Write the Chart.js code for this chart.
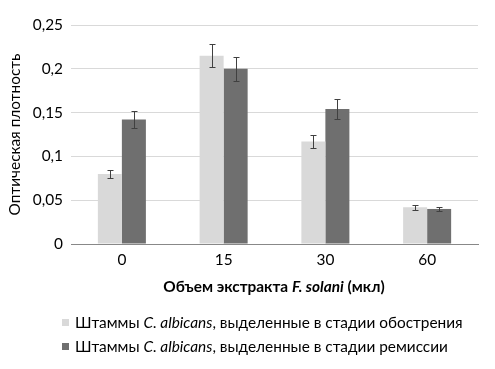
<!DOCTYPE html>
<html>
<head>
<meta charset="utf-8">
<script src="https://cdn.jsdelivr.net/npm/chart.js@4"></script>
<style>
  html, body { margin: 0; padding: 0; background: #fff; }
  #wrap { position: relative; width: 495px; height: 369px; font-family: Lato, "Open Sans", sans-serif; color: #000; }
  #c { position: absolute; left: 0; top: 0; }
  #xtitle { position: absolute; left: 0; width: 548px; top: 277px; text-align: center; font-weight: bold; font-size: 15.4px; white-space: nowrap; }
  .leg { position: absolute; left: 62px; font-size: 15.4px; white-space: nowrap; line-height: 18px; }
  .leg .sw { display: inline-block; width: 7px; height: 7px; margin-right: 6px; vertical-align: 2px; }
</style>
</head>
<body>
<div id="wrap">
  <canvas id="c" width="495" height="369"></canvas>
  <div id="xtitle">Объем экстракта <i>F. solani</i> (мкл)</div>
  <div class="leg" style="top:313px"><span class="sw" style="background:#d9d9d9"></span>Штаммы <i>C. albicans</i>, выделенные в стадии обострения</div>
  <div class="leg" style="top:337px"><span class="sw" style="background:#6f6f6f"></span>Штаммы <i>C. albicans</i>, выделенные в стадии ремиссии</div>
</div>
<script>
const categories = ['0', '15', '30', '60'];
const exacerbation = [0.080, 0.215, 0.117, 0.042];
const exacerbationErr = [0.005, 0.013, 0.007, 0.003];
const remission = [0.142, 0.200, 0.154, 0.040];
const remissionErr = [0.010, 0.014, 0.011, 0.0025];
const yTicks = [0, 0.05, 0.1, 0.15, 0.2, 0.25];

const errors = [exacerbationErr, remissionErr];

const errorBars = {
  id: 'errorBars',
  afterDatasetsDraw(chart) {
    const ctx = chart.ctx;
    const ys = chart.scales.y;
    ctx.save();
    ctx.strokeStyle = '#404040';
    ctx.lineWidth = 1;
    chart.data.datasets.forEach((ds, i) => {
      const meta = chart.getDatasetMeta(i);
      meta.data.forEach((el, j) => {
        const v = ds.data[j], e = errors[i][j];
        const x = Math.round(el.x) + 0.5;
        const yt = Math.round(ys.getPixelForValue(v + e)) + 0.5;
        const yb = Math.round(ys.getPixelForValue(v - e)) + 0.5;
        ctx.beginPath();
        ctx.moveTo(x, yt); ctx.lineTo(x, yb);
        ctx.moveTo(x - 3, yt); ctx.lineTo(x + 3, yt);
        ctx.moveTo(x - 3, yb); ctx.lineTo(x + 3, yb);
        ctx.stroke();
      });
    });
    ctx.restore();
  }
};

new Chart(document.getElementById('c'), {
  type: 'bar',
  data: {
    labels: categories,
    datasets: [
      { label: 'Штаммы C. albicans, выделенные в стадии обострения', data: exacerbation, backgroundColor: '#d9d9d9' },
      { label: 'Штаммы C. albicans, выделенные в стадии ремиссии', data: remission, backgroundColor: '#6f6f6f' }
    ]
  },
  options: {
    responsive: false,
    animation: false,
    devicePixelRatio: 1,
    layout: { padding: { top: 25, right: 17, bottom: 97, left: 0 } },
    plugins: { legend: { display: false }, tooltip: { enabled: false } },
    datasets: { bar: { barPercentage: 1, categoryPercentage: 0.472 } },
    scales: {
      x: {
        grid: { display: false, drawTicks: false },
        border: { color: '#888888' },
        ticks: { color: '#000', font: { family: 'Lato', size: 15.4 }, padding: 7 },
        afterFit(s) { s.height = 28; }
      },
      y: {
        min: 0, max: 0.25,
        afterBuildTicks(s) { s.ticks = yTicks.map(v => ({ value: v })); },
        grid: { color: '#d9d9d9', drawTicks: false },
        border: { display: false },
        ticks: {
          color: '#000', font: { family: 'Lato', size: 15.4 }, padding: 8,
          callback: v => String(Number(v.toFixed(2))).replace('.', ',')
        },
        title: { display: true, text: 'Оптическая плотность', color: '#000', font: { family: 'Lato', size: 15.4 }, padding: { top: 6, bottom: 4 } },
        afterFit(s) { s.width = 71; }
      }
    }
  },
  plugins: [errorBars]
});
</script>
</body>
</html>
